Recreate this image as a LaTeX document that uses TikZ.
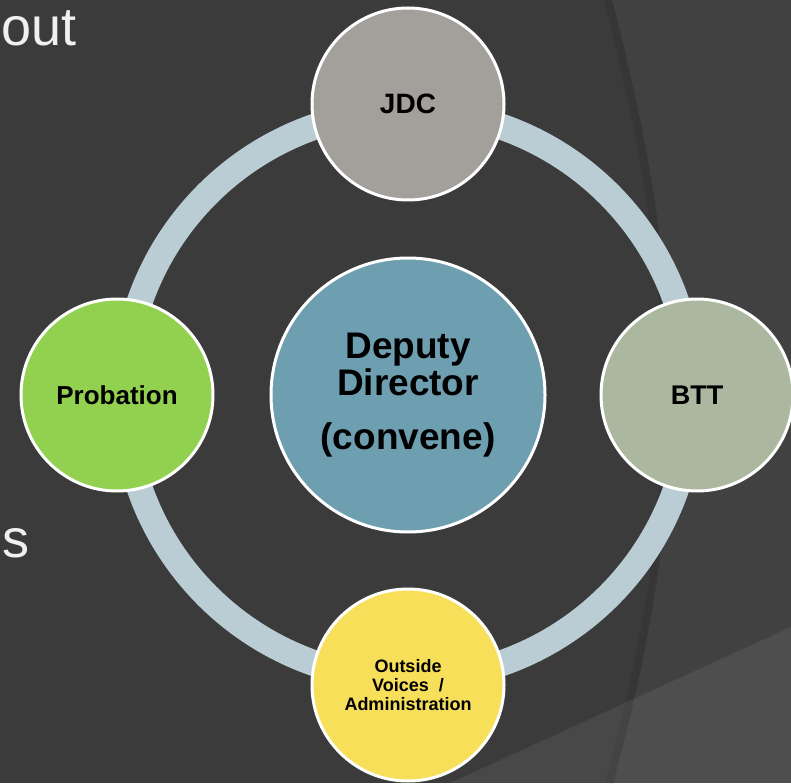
\documentclass[tikz,border=0pt]{standalone}
\usepackage{fontspec}
\setmainfont{Liberation Sans}

\definecolor{slidebg}{HTML}{3B3B3B}
\definecolor{ringblue}{HTML}{BACDD5}
\definecolor{jdcgray}{HTML}{A39F9A}
\definecolor{deputyblue}{HTML}{6E9FB0}
\definecolor{probgreen}{HTML}{92D050}
\definecolor{bttgreen}{HTML}{ABB89F}
\definecolor{voiceyellow}{HTML}{F7DF5A}

\begin{document}
\begin{tikzpicture}[x=1pt,y=-1pt,
    bubble/.style={circle,draw=white,line width=3pt,minimum size=192pt,inner sep=0pt,
      align=center,text=black,font=\bfseries\fontsize{27}{30}\selectfont},
    slidetext/.style={anchor=base west,inner sep=0pt,text=white!94!black,
      font=\fontsize{54}{60}\selectfont}]

        % Background
        \useasboundingbox (0,0) rectangle (791,783);
        \clip (0,0) rectangle (791,783);
        \fill[slidebg] (0,0) rectangle (791,783);
        \draw[black,opacity=0.07,line width=8pt,xshift=-4pt] (612,0) .. controls (690,300) and (690,500) .. (613,783);
        \fill[white,opacity=0.03] (612,0) .. controls (690,300) and (690,500) .. (613,783) -- (791,783) -- (791,0) -- cycle;
        \fill[white,opacity=0.07] (450,783) -- (791,627) -- (791,783) -- cycle;

        % Slide text behind the diagram
        \node[slidetext] (word1) at (1,46) {out};
        \node[slidetext] (word2) at (2,557) {s};

        % Ring
        \coordinate (hub) at (408,395);
        \draw[ringblue,line width=26pt] (hub) circle[radius=284];

        % Circles
        \node[bubble,fill=deputyblue,minimum size=274pt,font=\bfseries\fontsize{37}{37}\selectfont] (deputy) at (hub) {Deputy\\Director\\[17pt](convene)};
        \node[bubble,fill=jdcgray,font=\bfseries\fontsize{28}{30}\selectfont] (jdc) at (408,104) {JDC};
        \node[bubble,fill=bttgreen] (btt) at (697,395) {BTT};
        \node[bubble,fill=probgreen,font=\bfseries\fontsize{26}{30}\selectfont] (probation) at (117,395) {Probation};
        \node[bubble,fill=voiceyellow,font=\bfseries\fontsize{18}{19}\selectfont] (voices) at (408,685) {Outside\\Voices~~/\\Administration};

      \end{tikzpicture}
\end{document}
